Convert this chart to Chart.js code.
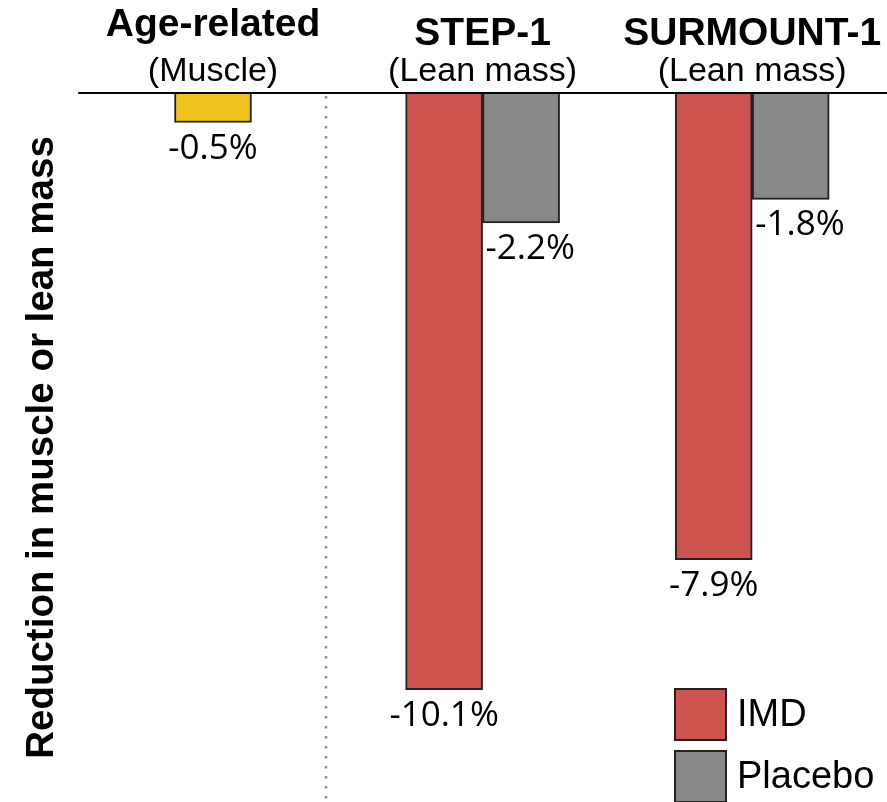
<!DOCTYPE html>
<html>
<head>
<meta charset="utf-8">
<script src="https://cdn.jsdelivr.net/npm/chart.js@4.4.1/dist/chart.umd.min.js"></script>
<style>
    html, body { margin: 0; padding: 0; background: #fff; }
    #wrap { width: 887px; height: 802px; position: relative; }
</style>
</head>
<body>
<div id="wrap"><canvas id="leanChart"></canvas></div>
<script>
// categories and their sub headings
const groups = ['Age-related', 'STEP-1', 'SURMOUNT-1'];
const subGroups = ['(Muscle)', '(Lean mass)', '(Lean mass)'];

// % change (negative = loss)
const ageValues = [-0.5, null, null];
const imdValues = [null, -10.1, -7.9];
const placeboValues = [null, -2.2, -1.8];

const yMin = -12;
const yMax = 0;

const ARIAL = "'Liberation Sans', Arial, sans-serif";
const LABEL_FONT = "'Open Sans', 'Liberation Sans', sans-serif";

// headings above each category
const headingPlugin = {
    id: 'headings',
    afterDraw(chart) {
        const ctx = chart.ctx;
        const x = chart.scales.x;
        ctx.save();
        ctx.fillStyle = '#000';
        ctx.textAlign = 'center';
        ctx.textBaseline = 'alphabetic';
        groups.forEach((g, i) => {
            const cx = x.getPixelForValue(i);
            ctx.font = 'bold 39px ' + ARIAL;
            ctx.fillText(g, cx, i === 0 ? 36 : 45);
            ctx.font = '34px ' + ARIAL;
            ctx.fillText(subGroups[i], cx, 81);
        });
        ctx.restore();
    }
};

// value labels under bar ends
const valueLabelPlugin = {
    id: 'valueLabels',
    afterDatasetsDraw(chart) {
        const ctx = chart.ctx;
        ctx.save();
        ctx.fillStyle = '#000';
        ctx.font = '35px ' + LABEL_FONT;
        ctx.textBaseline = 'alphabetic';
        chart.data.datasets.forEach((ds, di) => {
            const meta = chart.getDatasetMeta(di);
            meta.data.forEach((bar, i) => {
                const v = ds.data[i];
                if (v === null || v === undefined) return;
                const txt = v.toFixed(1) + '%';
                if (ds.labelAlign === 'left') {
                    ctx.textAlign = 'left';
                    ctx.fillText(txt, bar.x - bar.width / 2 + 3, bar.y + 36);
                } else {
                    ctx.textAlign = 'center';
                    ctx.fillText(txt, bar.x, bar.y + 36);
                }
            });
        });
        ctx.restore();
    }
};

// dotted separator + zero line + legend
const decorPlugin = {
    id: 'decor',
    afterDatasetsDraw(chart) {
        const ctx = chart.ctx;
        const area = chart.chartArea;
        const y = chart.scales.y;
        const zeroY = y.getPixelForValue(0);

        // separator between the age bar and the trial groups
        const ageBar = chart.getDatasetMeta(0).data[0];
        const stepBar = chart.getDatasetMeta(1).data[1];
        const sepX = Math.round(((ageBar.x + ageBar.width / 2) + (stepBar.x - stepBar.width / 2)) / 2) - 3;
        ctx.save();
        ctx.strokeStyle = '#8e8e8e';
        ctx.lineWidth = 2.5;
        ctx.setLineDash([2.5, 7.5]);
        ctx.beginPath();
        ctx.moveTo(sepX, zeroY + 3);
        ctx.lineTo(sepX, area.bottom);
        ctx.stroke();
        ctx.restore();

        // zero line
        ctx.save();
        ctx.strokeStyle = '#000';
        ctx.lineWidth = 2;
        ctx.beginPath();
        ctx.moveTo(area.left, zeroY);
        ctx.lineTo(area.right, zeroY);
        ctx.stroke();
        ctx.restore();

        // legend (IMD, Placebo)
        const items = chart.data.datasets.filter(d => d.inLegend);
        const boxX = area.right - 212;
        let boxY = area.bottom - 113;
        ctx.save();
        ctx.font = '38px ' + ARIAL;
        ctx.textAlign = 'left';
        ctx.textBaseline = 'middle';
        items.forEach(d => {
            ctx.fillStyle = d.backgroundColor;
            ctx.fillRect(boxX, boxY, 51, 51);
            ctx.strokeStyle = '#222';
            ctx.lineWidth = 2;
            ctx.strokeRect(boxX, boxY, 51, 51);
            ctx.fillStyle = '#000';
            ctx.fillText(d.label, boxX + 62, boxY + 27);
            boxY += 62;
        });
        ctx.restore();
    }
};

const ctx = document.getElementById('leanChart').getContext('2d');
new Chart(ctx, {
    type: 'bar',
    data: {
        labels: groups,
        datasets: [
            {
                label: 'Age-related',
                data: ageValues,
                backgroundColor: '#EDC21C',
                inLegend: false
            },
            {
                label: 'IMD',
                data: imdValues,
                backgroundColor: '#CD544E',
                inLegend: true
            },
            {
                label: 'Placebo',
                data: placeboValues,
                backgroundColor: '#888888',
                labelAlign: 'left',
                inLegend: true
            }
        ]
    },
    options: {
        responsive: true,
        maintainAspectRatio: false,
        animation: false,
        layout: {
            padding: { left: 0, right: 0, top: 93, bottom: 0 }
        },
        datasets: {
            bar: {
                skipNull: true,
                barThickness: 77,
                borderColor: '#222',
                borderWidth: 2,
                borderSkipped: 'start'
            }
        },
        scales: {
            x: {
                display: false
            },
            y: {
                min: yMin,
                max: yMax,
                ticks: { display: false },
                grid: { display: false },
                border: { display: false },
                title: {
                    display: true,
                    text: 'Reduction in muscle or lean mass',
                    color: '#000',
                    font: { family: ARIAL, size: 38.5, weight: 'bold' },
                    padding: { top: 19, bottom: 5 }
                }
            }
        },
        plugins: {
            legend: { display: false },
            tooltip: { enabled: false }
        }
    },
    plugins: [headingPlugin, valueLabelPlugin, decorPlugin]
});
</script>
</body>
</html>
